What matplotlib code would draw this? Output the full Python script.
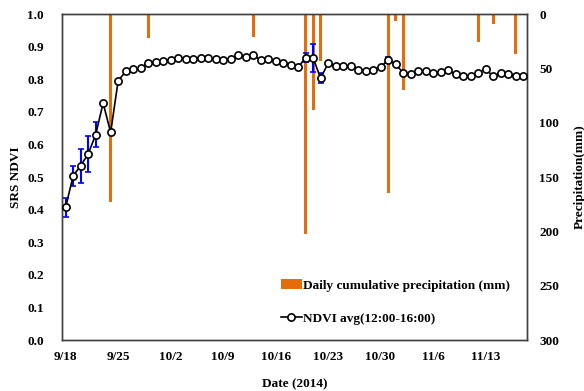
import matplotlib
matplotlib.use("Agg")
import matplotlib.pyplot as plt
import numpy as np

# daily NDVI averages, 9/18 .. 11/18 (2014)
ndvi = [0.408, 0.504, 0.535, 0.571, 0.630, 0.727, 0.637, 0.795, 0.824, 0.831,
        0.834, 0.851, 0.853, 0.857, 0.859, 0.866, 0.862, 0.862, 0.866, 0.864,
        0.861, 0.859, 0.862, 0.874, 0.869, 0.874, 0.859, 0.862, 0.857, 0.851,
        0.844, 0.837, 0.866, 0.866, 0.803, 0.849, 0.840, 0.840, 0.841, 0.830,
        0.826, 0.830, 0.838, 0.859, 0.847, 0.820, 0.816, 0.826, 0.825, 0.820,
        0.821, 0.828, 0.815, 0.811, 0.811, 0.820, 0.831, 0.810, 0.818, 0.816,
        0.810, 0.810]
ndvi_err = [0.029, 0.031, 0.052, 0.056, 0.039, 0.0, 0.0, 0.0, 0.0, 0.0,
            0.0, 0.006, 0.0, 0.0, 0.0, 0.0, 0.0, 0.0, 0.0, 0.0,
            0.0, 0.0, 0.0, 0.0, 0.0, 0.0, 0.0, 0.0, 0.0, 0.0,
            0.0, 0.0, 0.014, 0.043, 0.015, 0.0, 0.0, 0.0, 0.0, 0.0,
            0.0, 0.0, 0.0, 0.008, 0.0, 0.004, 0.0, 0.0, 0.0, 0.0,
            0.0, 0.0, 0.0, 0.0, 0.0, 0.0, 0.0, 0.0, 0.0, 0.0,
            0.0, 0.0]

# rain days (day index from 9/18) and amounts
rain_day = [6, 11, 25, 32, 33, 34, 43, 44, 45, 55, 57, 60]
rain_mm = [173, 22, 21, 202, 88, 43, 165, 6, 70, 26, 9, 37]

tick_days = [0, 7, 14, 21, 28, 35, 42, 49, 56]
tick_labels = ["9/18", "9/25", "10/2", "10/9", "10/16", "10/23", "10/30", "11/6", "11/13"]

plt.rcParams['font.family'] = ['Liberation Serif', 'DejaVu Serif']
plt.rcParams['font.weight'] = 'bold'
plt.rcParams['font.size'] = 9.5

fig = plt.figure(figsize=(5.84, 3.91), dpi=100)
ax = fig.add_axes([0.106, 0.130, 0.796, 0.834])
ax2 = ax.twinx()

days = np.arange(len(ndvi))

# precipitation bars hang from the top
bars = ax2.bar(rain_day, rain_mm, width=0.4, color='#E46C0A',
               label='Daily cumulative precipitation (mm)')
ax2.set_ylim(300, 0)
ax2.set_yticks(range(0, 301, 50))
ax2.set_ylabel("Precipitation(mm)", fontweight='bold')
ax2.yaxis.set_label_coords(1.10, 0.5)

# NDVI line on top of bars
ax.set_zorder(ax2.get_zorder() + 1)
ax.patch.set_visible(False)
ax.errorbar(days, ndvi, yerr=ndvi_err, fmt='none', ecolor='#0000FF',
            elinewidth=1.5, capsize=2, capthick=1.2, zorder=2)
line, = ax.plot(days, ndvi, color='black', lw=1.2, marker='o', ms=5.2,
                mfc='white', mec='black', mew=1.2,
                label='NDVI avg(12:00-16:00)', zorder=3)

ax.set_xlim(-0.5, 61.5)
ax.set_ylim(0, 1.0)
ax.set_yticks(np.arange(0, 1.01, 0.1))
ax.set_yticklabels(["%.1f" % v for v in np.arange(0, 1.01, 0.1)])
ax.set_xticks(tick_days)
ax.set_xticklabels(tick_labels)
ax.set_ylabel("SRS NDVI", fontweight='bold')
ax.yaxis.set_label_coords(-0.085, 0.5)
ax.set_xlabel("Date (2014)", fontweight='bold', labelpad=11)

ax.tick_params(axis='y', length=0, pad=13)
ax.tick_params(axis='x', length=0, pad=8)
ax2.tick_params(axis='y', length=0, pad=9)

for a in (ax, ax2):
    for s in a.spines.values():
        s.set_color('#404040')
        s.set_linewidth(1.0)

ax.legend([bars, line], [bars.get_label(), line.get_label()],
          loc='lower right', bbox_to_anchor=(0.99, 0.01), frameon=False,
          handlelength=1.6, handletextpad=0.1, labelspacing=1.6,
          prop={'weight': 'bold', 'size': 9.5})

fig.savefig("out.png", dpi=100)
